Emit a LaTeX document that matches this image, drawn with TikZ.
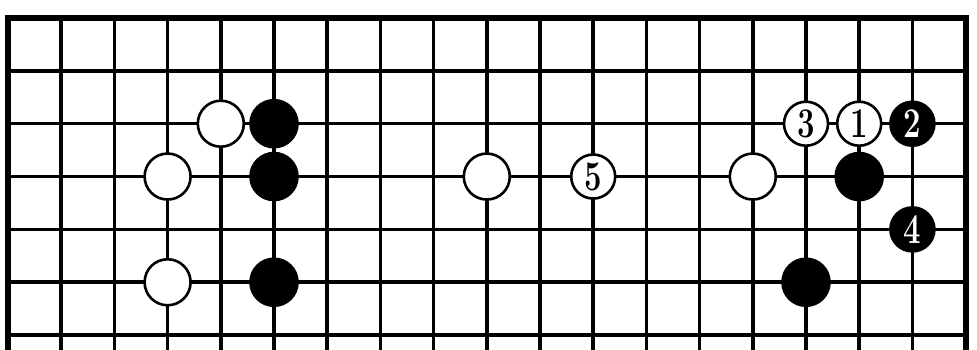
\documentclass[tikz,border=0pt]{standalone}
\usepackage{graphicx}
\newcommand{\stonenum}[1]{\scalebox{1.25}[1.7]{\Huge\bfseries #1}}
\begin{document}
\begin{tikzpicture}[x=1pt,y=-1pt,
  gridline/.style={line width=3.6pt,line cap=butt},
  edgeline/.style={line width=6pt,line cap=rect},
  wstone/.style={circle,draw=black,fill=white,line width=2.6pt,minimum size=46pt,inner sep=0pt},
  bstone/.style={circle,draw=black,fill=black,line width=2.6pt,minimum size=47pt,inner sep=0pt,text=white}]
\useasboundingbox (0,0) rectangle (977,350);
\def\gx#1{8+53.2*#1}
\def\gy#1{18+52.85*#1}
% interior vertical lines
\foreach \i in {1,...,17} \draw[gridline] ({\gx{\i}},18) -- ({\gx{\i}},352);
% horizontal lines
\foreach \j in {1,...,6} \draw[gridline] (8,{\gy{\j}}) -- (965.6,{\gy{\j}});
% board edges
\draw[edgeline] (8,352) -- (8,18) -- (965.6,18) -- (965.6,352);
% stones
\node[wstone] (w1) at ({\gx{4}},{\gy{2}}) {};
\node[bstone] (b1) at ({\gx{5}},{\gy{2}}) {};
\node[wstone] (w2) at ({\gx{3}},{\gy{3}}) {};
\node[bstone] (b2) at ({\gx{5}},{\gy{3}}) {};
\node[wstone] (w3) at ({\gx{3}},{\gy{5}}) {};
\node[bstone] (b3) at ({\gx{5}},{\gy{5}}) {};
\node[wstone] (w4) at ({\gx{9}},{\gy{3}}) {};
\node[wstone,minimum size=44pt] (m5) at ({\gx{11}},{\gy{3}}) {\stonenum{5}};
\node[wstone] (w5) at ({\gx{14}},{\gy{3}}) {};
\node[wstone,minimum size=44pt] (m3) at ({\gx{15}},{\gy{2}}) {\stonenum{3}};
\node[wstone,minimum size=44pt] (m1) at ({\gx{16}},{\gy{2}}) {\stonenum{1}};
\node[bstone,minimum size=44pt] (m2) at ({\gx{17}},{\gy{2}}) {\stonenum{2}};
\node[bstone] (b4) at ({\gx{16}},{\gy{3}}) {};
\node[bstone,minimum size=44pt] (m4) at ({\gx{17}},{\gy{4}}) {\stonenum{4}};
\node[bstone] (b5) at ({\gx{15}},{\gy{5}}) {};
\end{tikzpicture}
\end{document}
